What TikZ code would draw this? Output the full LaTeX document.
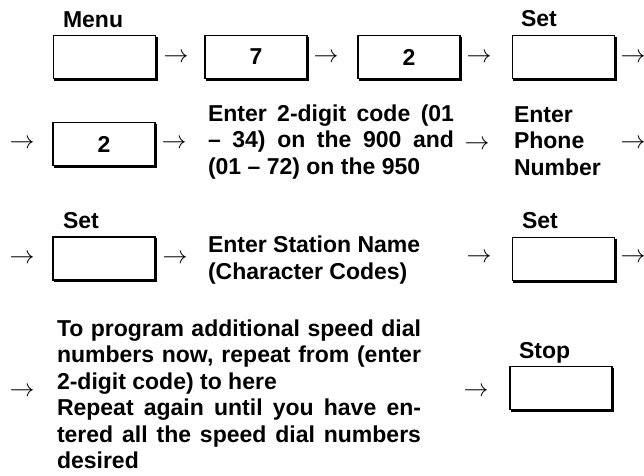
\documentclass[tikz,border=0pt]{standalone}
\usepackage{fontspec}
\setmainfont{Liberation Sans}
\tolerance=9999
\hbadness=10000
\begin{document}
\begin{tikzpicture}[x=1pt,y=-1pt,
  every node/.style={inner sep=0pt,outer sep=0pt,font=\fontsize{23}{26.5}\selectfont\bfseries},
  keybox/.style={draw,line width=1.3pt,minimum width=102pt,minimum height=43pt},
  lbl/.style={anchor=base west},
  arr/.style={font=\fontsize{24.88}{30}\selectfont},
  jtext/.style={anchor=base west,align=justify},
  ltext/.style={anchor=base west,align=left},
  shade/.style={line width=2.6pt,line join=miter}]
\useasboundingbox (0,0) rectangle (644,475);
% row 1
\node[lbl] (lmenu) at (63,27) {Menu};
\node[lbl] (lset1) at (521,26) {Set};
\node[keybox] (b1) at (104.5,57) {};
\node[keybox] (b2) at (256,57) {7};
\node[keybox] (b3) at (409,57) {2};
\node[keybox] (b4) at (563.5,57) {};
\node[arr] (a1) at (176,57.5) {$\rightarrow$};
\node[arr] (a2) at (326,57.5) {$\rightarrow$};
\node[arr] (a3) at (479,57.5) {$\rightarrow$};
\node[arr] (a4) at (633,57.5) {$\rightarrow$};
% row 2
\node[arr] (a5) at (22,144) {$\rightarrow$};
\node[keybox] (b5) at (104,144) {2};
\node[arr] (a6) at (174,144) {$\rightarrow$};
\node[jtext,text width=246pt] (tcode) at (208,121) {Enter 2-digit code (01\linebreak – 34) on the 900 and\linebreak (01 – 72) on the 950};
\node[arr] (a7) at (477,145) {$\rightarrow$};
\node[ltext] (tphone) at (514,175) {Enter\\Phone\\Number};
\node[arr] (a8) at (633,144) {$\rightarrow$};
% row 3
\node[lbl] (lset2) at (63,228) {Set};
\node[lbl] (lset3) at (522,228) {Set};
\node[arr] (a9) at (22,259) {$\rightarrow$};
\node[keybox] (b6) at (104,258.5) {};
\node[arr] (a10) at (175,259) {$\rightarrow$};
\node[ltext] (tstation) at (208,279) {Enter Station Name\\(Character Codes)};
\node[arr] (a11) at (479,258) {$\rightarrow$};
\node[keybox] (b7) at (563.5,259) {};
\node[arr] (a12) at (633,258) {$\rightarrow$};
% row 4
\node[arr] (a13) at (22,392) {$\rightarrow$};
\node[jtext,text width=364pt] (trepeat) at (57,336) {To program additional speed dial\linebreak numbers now, repeat from (enter\linebreak 2-digit code) to here\par Repeat again until you have en-\linebreak tered all the speed dial numbers\linebreak desired};
\node[arr] (a14) at (476,392) {$\rightarrow$};
\node[lbl] (lstop) at (519,358) {Stop};
\node[keybox] (b8) at (561,388) {};
% box shadows
\foreach \b in {b1,b2,b3,b4,b5,b6,b7,b8}{
  \draw[shade] ([xshift=0.7pt,yshift=-1pt]\b.north east) -- ([xshift=0.7pt,yshift=-0.7pt]\b.south east) -- ([xshift=0.5pt,yshift=-0.7pt]\b.south west);
}
\end{tikzpicture}
\end{document}
